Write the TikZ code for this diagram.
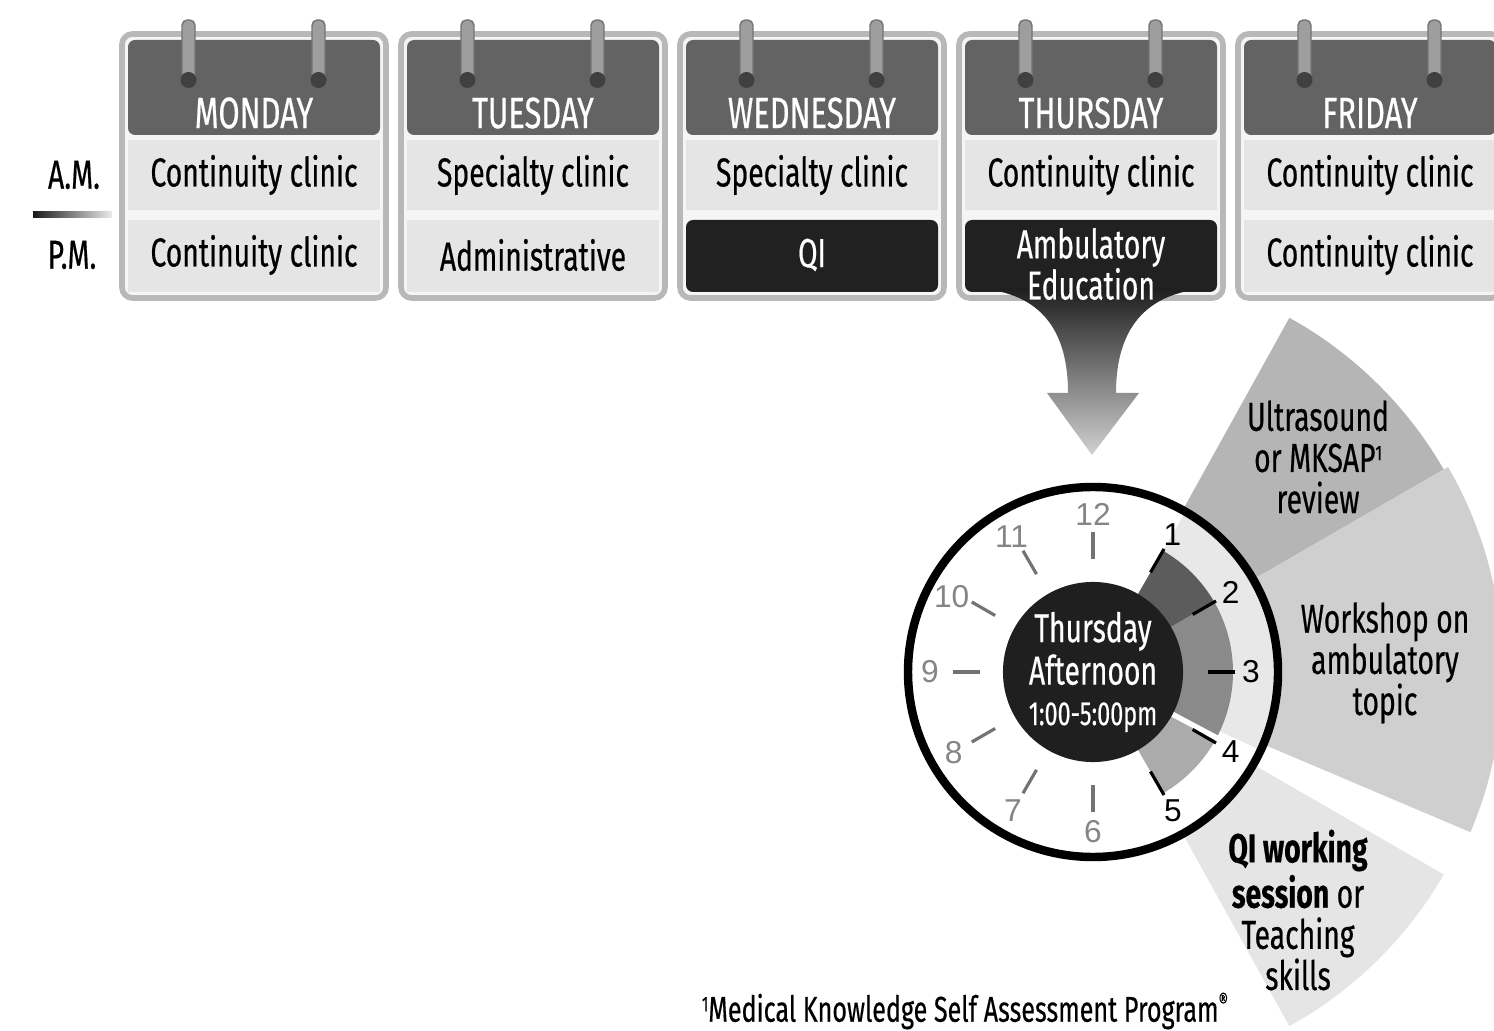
\documentclass[tikz,border=0pt]{standalone}
\usepackage{fontspec}
\setmainfont{Fira Sans}[FakeStretch=0.7, FakeBold=0.45]
\newfontfamily\clockfont{Liberation Sans}
\usetikzlibrary{calc}
\pgfdeclarelayer{front}
\pgfsetlayers{main,front}

\tikzset{
	cardframe/.style={draw=black!28, fill=black!4, line width=1.6pt, rounded corners=3pt},
	cardhead/.style={fill=black!61, rounded corners=2pt},
	slotrow/.style={fill=black!10},
	slotdark/.style={fill=black!87, rounded corners=2pt},
	rowtext/.style={font=\fontsize{11.5}{11.7}\selectfont, text=black, align=center},
	darktext/.style={font=\fontsize{11.5}{11.7}\selectfont, text=white, align=center},
	daytext/.style={font=\fontsize{12.5}{12.5}\selectfont, text=white},
	pinbar/.style={fill=black!38, draw=black!55, line width=0.4pt, rounded corners=1.5pt},
	pinend/.style={fill=black!75},
	hourtick/.style={line width=0.9pt, black},
	offtick/.style={line width=0.9pt, black!55},
	hournum/.style={font=\clockfont\fontsize{9}{10}\selectfont, text=black},
	offnum/.style={font=\clockfont\fontsize{9}{10}\selectfont, text=black!48},
	fantext/.style={font=\fontsize{11.5}{11.7}\selectfont, text=black, align=center},
	notetext/.style={font=\fontsize{10.2}{11}\selectfont, text=black}
}

\newcommand{\supone}{\raisebox{0.55ex}{\fontsize{6}{6}\selectfont 1}}

% #1 left edge, #2 name, #3 day, #4 a.m. slot, #5 p.m. slot, #6 row or dark
\newcommand{\daycard}[6]{%
	\begin{scope}[shift={(#1,0)}]
		\draw[cardframe] (0,34) rectangle (264,298);
		\fill[cardhead] (6,40) rectangle (258,135);
		\fill[slotrow] (6,140) rectangle (258,210);
		\fill[slot#6] (6,220) rectangle (258,292);
		\draw[pinbar] (60,20) rectangle (73,84);
		\fill[pinend] (66.5,80) circle (8);
		\draw[pinbar] (190,20) rectangle (203,84);
		\fill[pinend] (196.5,80) circle (8);
		\begin{pgfonlayer}{front}
			\node[daytext] (#2head) at (132,113) {#3};
			\node[rowtext] (#2am) at (132,175) {#4};
			\node[#6text] (#2pm) at (132,255) {#5};
		\end{pgfonlayer}
	\end{scope}
}

\begin{document}
\begin{tikzpicture}[x=0.01cm, y=-0.01cm]
			%%%%% START %%%%%
			\useasboundingbox (0,0) rectangle (1494,1031);
			
			\node[rowtext] (amlbl) at (74,175) {A.M.};
			\node[rowtext] (pmlbl) at (72,255) {P.M.};
			\shade[left color=black!90, right color=black!8] (33,212) rectangle (112,218);
			
			\daycard{122}{mon}{MONDAY}{Continuity clinic}{Continuity clinic}{row}
			\daycard{401}{tue}{TUESDAY}{Specialty clinic}{Administrative}{row}
			\daycard{680}{wed}{WEDNESDAY}{Specialty clinic}{QI}{dark}
			\daycard{959}{thu}{THURSDAY}{Continuity clinic}{}{dark}
			\daycard{1238}{fri}{FRIDAY}{Continuity clinic}{Continuity clinic}{row}
			
			\begin{pgfonlayer}{front}
				\node[darktext] (thuedu) at (1091,264) {Ambulatory\\Education};
			\end{pgfonlayer}
			
			% funnel down to the clock
			\shade[top color=black!88, bottom color=black!18] (985,289) .. controls (1045,296) and (1068,335) .. (1068,393) -- (1047,393) -- (1092,455) -- (1139,393) -- (1116,393) .. controls (1116,335) and (1140,296) .. (1200,289) -- cycle;
			
			\begin{scope}[shift={(1093,672)}, yscale=-1]
				% fan of sessions
				\fill[black!29] (0,0) -- (61:405) arc (61:30:405) -- cycle;
				\fill[black!19] (0,0) -- (30:410) arc (30:-23:410) -- cycle;
				\fill[black!10] (0,0) -- (-30:405) arc (-30:-61:405) -- cycle;
				
				% clock face
				\fill[white] (0,0) circle (187);
				\fill[black!9] (0,0) -- (60:183) arc (60:-25:183) -- cycle;
				\fill[black!64] (0,0) -- (60:140) arc (60:30:140) -- cycle;
				\fill[black!46] (0,0) -- (30:140) arc (30:-27:140) -- cycle;
				\fill[black!33] (0,0) -- (-29:140) arc (-29:-60:140) -- cycle;
				\draw[white, line width=1.5pt] (0,0) -- (-28:150);
				\draw[line width=2.4pt] (0,0) circle (185);
				
				\draw[hourtick] (60:115) -- (60:142);
				\draw[hourtick] (30:115) -- (30:142);
				\draw[hourtick] (0:115) -- (0:142);
				\draw[hourtick] (-30:115) -- (-30:142);
				\draw[hourtick] (-60:115) -- (-60:142);
				\draw[offtick] (-90:113) -- (-90:140);
				\draw[offtick] (-120:113) -- (-120:140);
				\draw[offtick] (-150:113) -- (-150:140);
				\draw[offtick] (180:113) -- (180:140);
				\draw[offtick] (150:113) -- (150:140);
				\draw[offtick] (120:113) -- (120:140);
				\draw[offtick] (90:113) -- (90:140);
				
				\node[hournum] (h1) at (60:159) {1};
				\node[hournum] (h2) at (30:159) {2};
				\node[hournum] (h3) at (0:158) {3};
				\node[hournum] (h4) at (-30:159) {4};
				\node[hournum] (h5) at (-60:160) {5};
				\node[offnum] (h6) at (-90:160) {6};
				\node[offnum] (h7) at (-120:160) {7};
				\node[offnum] (h8) at (-150:161) {8};
				\node[offnum] (h9) at (180:163) {9};
				\node[offnum] (h10) at (152:160) {10};
				\node[offnum] (h11) at (121:158) {11};
				\node[offnum] (h12) at (90:158) {12};
				
				\node[circle, fill=black!88, minimum size=1.8cm, inner sep=0pt, text=white, align=center, font=\fontsize{11.5}{10.5}\selectfont] (hub) at (0,0) {Thursday\\Afternoon\\[1pt]{\fontsize{9.5}{10}\selectfont 1:00-5:00pm}};
			\end{scope}
			
			\node[fantext] (usnd) at (1318,457) {Ultrasound\\or MKSAP\supone\\review};
			\node[fantext] (wshop) at (1385,663) {Workshop on\\ambulatory\\topic};
			\node[fantext] (qiwork) at (1298,910) {\textbf{QI working}\\\textbf{session} or\\Teaching\\skills};
			
			\node[notetext] (fnote) at (965,1011) {\supone Medical Knowledge Self Assessment Program\raisebox{0.7ex}{\fontsize{6}{6}\selectfont ®}};
			%%%%% END %%%%%
\end{tikzpicture}
\end{document}
